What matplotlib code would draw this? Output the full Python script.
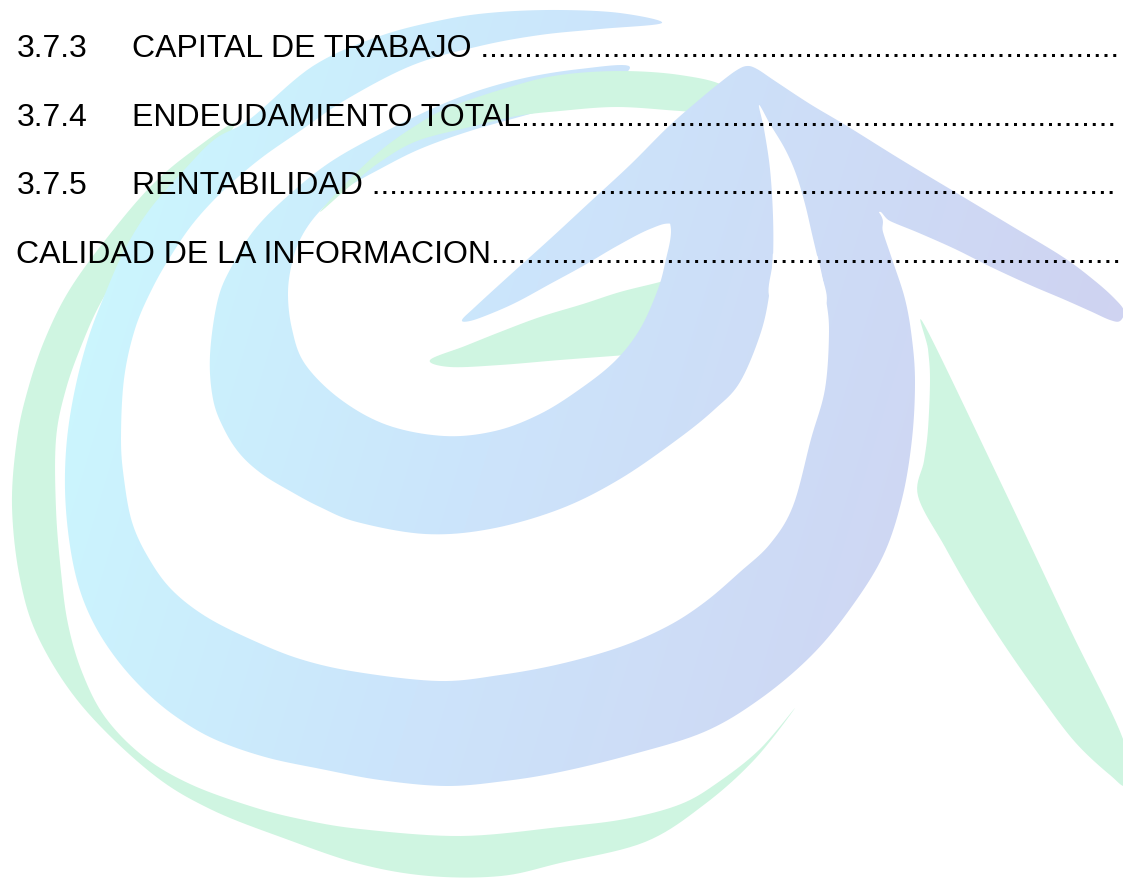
import numpy as np
import matplotlib
matplotlib.use("Agg")
import matplotlib.pyplot as plt
from matplotlib.path import Path
from matplotlib.patches import PathPatch
from matplotlib.colors import to_rgb

# ---------------- content (table of contents entries) ----------------
entry_numbers = ["3.7.3", "3.7.4", "3.7.5", ""]
entry_titles = ["CAPITAL DE TRABAJO", "ENDEUDAMIENTO TOTAL", "RENTABILIDAD",
                "CALIDAD DE LA INFORMACION"]
leader_gap = [" ", "", " ", ""]
baselines = [57, 126, 194, 263]

# ---------------- watermark logo outlines (pixel space, y down) ----------------
green_outer = [(235, 125), (195, 150), (153, 185), (110, 235), (70, 290), (45, 340),
               (28, 390), (17, 440), (12, 507), (20, 580), (39, 640), (82, 707),
               (150, 773), (210, 810), (286, 840), (360, 865), (429, 877), (501, 877),
               (560, 864), (645, 843), (705, 805), (755, 760), (795, 709),
               (760, 750), (720, 782), (681, 805), (625, 820), (560, 828), (461, 837),
               (360, 830), (300, 820), (250, 807), (190, 785), (143, 757), (105, 718),
               (82, 673), (68, 625), (61, 573), (56, 510), (56, 440), (66, 390),
               (82, 345), (100, 305), (125, 265), (155, 225), (190, 185)]
green_leg = [(925, 327), (1000, 482), (1070, 630), (1123, 740), (1126, 785), (1110, 776),
             (1075, 743), (1040, 697), (1005, 647), (973, 597), (945, 548), (918, 497),
             (924, 462), (928, 430), (930, 380), (928, 350)]
green_leaf = [(430, 361), (465, 347), (500, 333), (540, 318), (583, 305), (620, 293),
              (660, 283), (700, 272), (705, 352), (640, 355), (613, 357), (560, 361),
              (500, 366), (450, 368)]
green_arc = [(320, 213), (345, 185), (380, 152), (415, 127), (450, 108), (513, 87),
             (560, 76), (620, 72), (680, 76), (725, 88), (730, 115), (680, 112),
             (617, 108), (560, 112), (517, 117), (470, 128), (417, 142), (380, 163),
             (350, 187)]
big_band = [(662, 24), (620, 14), (560, 11), (500, 13), (447, 20), (380, 37), (313, 67),
            (250, 120), (215, 140), (185, 170), (150, 210), (125, 250), (105, 295),
            (88, 340), (75, 390), (67, 440), (65, 490), (69, 540), (78, 585), (93, 623),
            (115, 658), (143, 690), (175, 717), (214, 740), (265, 758), (321, 770),
            (380, 781), (446, 787), (505, 782), (560, 773), (630, 756), (704, 733),
            (760, 700), (811, 657), (850, 610), (883, 557), (902, 500), (912, 440),
            (915, 383), (912, 340), (905, 300), (892, 260), (883, 233), (878, 212),
            (830, 165), (780, 125), (776, 135), (793, 167), (803, 200), (811, 233),
            (820, 267), (826, 300), (829, 333), (825, 390), (811, 440), (793, 507),
            (770, 545), (740, 573), (705, 603), (668, 627), (620, 648), (560, 665),
            (500, 676), (439, 682), (357, 673), (300, 660), (250, 640), (205, 617),
            (171, 590), (148, 558), (132, 523), (124, 480), (121, 440), (124, 380),
            (135, 330), (152, 290), (172, 255), (195, 222), (225, 190), (260, 160),
            (300, 132), (347, 100), (413, 66), (480, 47), (540, 36), (600, 30)]
inner_band = [(630, 68), (580, 70), (520, 80), (460, 98), (400, 125), (335, 160),
              (290, 195), (255, 230), (233, 265), (218, 300), (210, 356), (213, 400),
              (224, 430), (240, 455), (262, 475), (290, 492), (320, 508), (357, 523),
              (425, 535), (490, 530), (560, 510), (620, 480), (678, 440), (715, 410),
              (740, 383), (761, 333), (770, 290), (773, 250), (773, 217), (768, 150),
              (759, 108), (740, 100), (705, 125), (680, 165), (668, 205), (671, 233),
              (666, 260), (658, 290), (640, 330), (615, 362), (580, 390), (540, 415),
              (495, 432), (444, 437), (387, 426), (340, 400), (305, 365), (292, 330),
              (288, 293), (293, 260), (303, 235), (320, 212), (345, 190), (380, 170),
              (420, 150), (470, 132), (530, 115), (590, 98)]
peak_arms = [(462, 321), (475, 308), (510, 276), (550, 240), (590, 203), (630, 166),
             (668, 128), (700, 100), (722, 82), (737, 71), (747, 67), (757, 70),
             (775, 82), (810, 105), (847, 127), (900, 160), (955, 193), (1010, 226),
             (1063, 258), (1095, 282), (1115, 300), (1124, 312), (1120, 322),
             (1110, 321), (1090, 312), (1063, 300), (1030, 286), (991, 268), (955, 250),
             (919, 234), (890, 222), (878, 214), (868, 250), (840, 265), (800, 250),
             (770, 255), (740, 255), (700, 240), (673, 225), (650, 230), (617, 247),
             (583, 267), (550, 285), (517, 303), (490, 315), (470, 322)]
slit = [(759, 106), (770, 125), (785, 150), (796, 175), (805, 205), (812, 235),
        (820, 270), (826, 305), (800, 322), (770, 300), (773, 260), (773, 217),
        (770, 170), (764, 130)]

GREEN = "#cff5e1"
GRAD_STOPS = [(0.0, "#cbf7fe"), (0.45, "#cce4fb"), (1.0, "#cfd3f1")]
W, H = 1123, 879


def smooth_closed(pts, n=10):
    P = np.asarray(pts, float)
    N = len(P)
    t = np.linspace(0, 1, n, endpoint=False)[:, None]
    out = []
    for i in range(N):
        p0, p1, p2, p3 = P[i - 1], P[i], P[(i + 1) % N], P[(i + 2) % N]
        out.append(0.5 * (2 * p1 + (-p0 + p2) * t + (2 * p0 - 5 * p1 + 4 * p2 - p3) * t ** 2
                          + (-p0 + 3 * p1 - 3 * p2 + p3) * t ** 3))
    v = np.vstack(out)
    return np.vstack([v, v[:1]])


def make_path(pts):
    v = smooth_closed(pts)
    codes = [Path.MOVETO] + [Path.LINETO] * (len(v) - 2) + [Path.CLOSEPOLY]
    return Path(v, codes)


fig = plt.figure(figsize=(W / 100, H / 100), dpi=100)
ax = fig.add_axes([0, 0, 1, 1])
ax.set_xlim(0, W)
ax.set_ylim(H, 0)
ax.axis("off")

# gradient image for the blue/lavender parts
yy, xx = np.mgrid[0:H, 0:W]
tt = np.clip((xx + 0.3 * yy - 150) / 1050.0, 0, 1)
pos = [s[0] for s in GRAD_STOPS]
cols = np.array([to_rgb(s[1]) for s in GRAD_STOPS])
img = np.dstack([np.interp(tt, pos, cols[:, k]) for k in range(3)])


def flat_shape(pts, z, color):
    ax.add_patch(PathPatch(make_path(pts), facecolor=color, edgecolor="none", zorder=z))


def blue_shape(pts, z):
    patch = PathPatch(make_path(pts), facecolor="none", edgecolor="none", zorder=z)
    ax.add_patch(patch)
    im = ax.imshow(img, extent=[0, W, H, 0], interpolation="bilinear", zorder=z,
                   aspect="auto")
    im.set_clip_path(patch)


flat_shape(green_outer, 1, GREEN)
flat_shape(green_leg, 1, GREEN)
flat_shape(green_leaf, 1, GREEN)
blue_shape(big_band, 2)
blue_shape(inner_band, 3)
flat_shape(green_arc, 4, GREEN)
blue_shape(peak_arms, 5)
flat_shape(slit, 6, "white")

ax.set_xlim(0, W)
ax.set_ylim(H, 0)

# ---------------- text ----------------
font = dict(family=["Liberation Sans", "DejaVu Sans"], size=23, color="black")
renderer = fig.canvas.get_renderer()
for num, title, gap, yb in zip(entry_numbers, entry_titles, leader_gap, baselines):
    x0 = 16.5
    if num:
        ax.text(x0, yb, num, va="baseline", ha="left", zorder=10, **font)
        x0 = 132
    n = 140
    t = ax.text(x0, yb, title + gap + "." * n, va="baseline", ha="left", zorder=10,
                **font)
    # trim leader dots so they stop at the right edge of the page
    while t.get_window_extent(renderer).x1 > W - 1 and n > 0:
        n -= 1
        t.set_text(title + gap + "." * n)

fig.savefig("out.png", dpi=100)
